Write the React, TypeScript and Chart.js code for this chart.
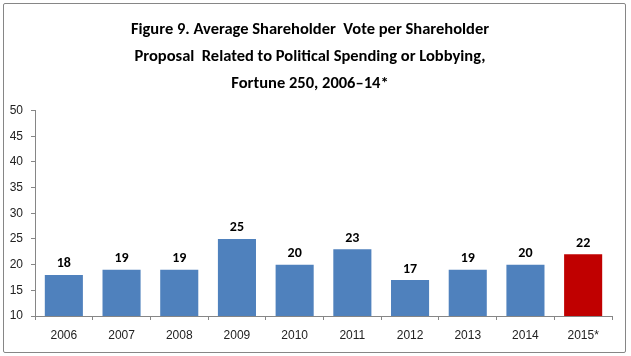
import React, { useEffect, useRef } from "react";
import { Chart, registerables } from "chart.js";

Chart.register(...registerables);

const categories = ["2006", "2007", "2008", "2009", "2010", "2011", "2012", "2013", "2014", "2015*"];
const votes = [18, 19, 19, 25, 20, 23, 17, 19, 20, 22];
const barColors = ["#4F81BD", "#4F81BD", "#4F81BD", "#4F81BD", "#4F81BD", "#4F81BD", "#4F81BD", "#4F81BD", "#4F81BD", "#C00000"];
const titleLines = [
  "Figure 9. Average Shareholder  Vote per Shareholder",
  "Proposal  Related to Political Spending or Lobbying,",
  "Fortune 250, 2006\u201314*",
];
const yMin = 10;
const yMax = 50;
const yStep = 5;

const titlePlugin = {
  id: "customTitle",
  afterDraw(chart: any) {
    const ctx = chart.ctx;
    ctx.save();
    ctx.font = "bold 16.5px Carlito, Lato, 'Open Sans', sans-serif";
    ctx.fillStyle = "#000";
    ctx.textAlign = "center";
    ctx.textBaseline = "middle";
    titleLines.forEach((line, i) => {
      ctx.fillText(line, 310, 30 + i * 27);
    });
    ctx.restore();
  },
};

const labelPlugin = {
  id: "barLabels",
  afterDatasetsDraw(chart: any) {
    const ctx = chart.ctx;
    const meta = chart.getDatasetMeta(0);
    ctx.save();
    ctx.font = "bold 14px Carlito, Lato, 'Open Sans', sans-serif";
    ctx.fillStyle = "#000";
    ctx.textAlign = "center";
    ctx.textBaseline = "middle";
    meta.data.forEach((bar: any, i: number) => {
      ctx.fillText(String(votes[i]), bar.x, bar.y - 11);
    });
    ctx.restore();
  },
};

export default function App() {
  const ref = useRef<HTMLCanvasElement | null>(null);
  useEffect(() => {
    document.body.style.margin = "0";
    const chart = new Chart(ref.current as HTMLCanvasElement, {
      type: "bar",
      data: {
        labels: categories,
        datasets: [
          {
            data: votes,
            backgroundColor: barColors,
            borderWidth: 0,
            barPercentage: 0.66,
            categoryPercentage: 1,
          },
        ],
      },
      options: {
        animation: false,
        responsive: false,
        maintainAspectRatio: false,
        layout: { padding: { top: 110.5, right: 19, bottom: 0, left: 0 } },
        plugins: { legend: { display: false }, tooltip: { enabled: false }, title: { display: false } },
        scales: {
          x: {
            grid: { drawOnChartArea: false, drawTicks: true, tickLength: 4, color: "#868686", offset: true },
            border: { display: true, color: "#868686" },
            ticks: { font: { family: "'Liberation Sans', Arial, sans-serif", size: 12 }, color: "#222", padding: 8, maxRotation: 0 },
            afterFit(scale: any) {
              scale.height = 40;
            },
          },
          y: {
            min: yMin,
            max: yMax,
            grid: { drawOnChartArea: false, drawTicks: true, tickLength: 4, color: "#868686" },
            border: { display: true, color: "#868686" },
            ticks: { stepSize: yStep, font: { family: "'Liberation Sans', Arial, sans-serif", size: 12 }, color: "#222", padding: 8 },
            afterFit(scale: any) {
              scale.width = 35;
            },
          },
        },
      },
      plugins: [titlePlugin, labelPlugin],
    });
    return () => chart.destroy();
  }, []);
  return (
    <div style={{ position: "relative", width: 631, height: 356, background: "#fff" }}>
      <canvas ref={ref} width={631} height={356} style={{ position: "absolute", left: 0, top: 0, width: 631, height: 356 }} />
      <div
        style={{
          position: "absolute",
          left: 3,
          top: 3,
          width: 621,
          height: 348,
          border: "1px solid #868686",
          borderRadius: 2,
          pointerEvents: "none",
        }}
      />
    </div>
  );
}
